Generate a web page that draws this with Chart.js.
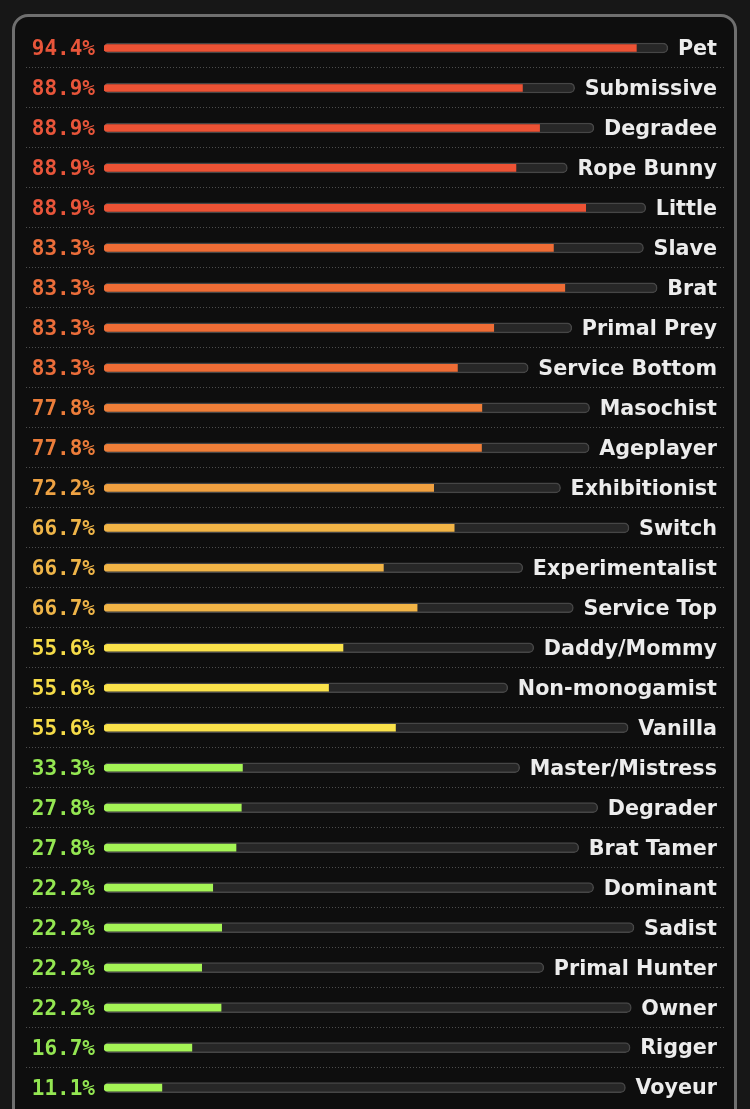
<!DOCTYPE html>
<html><head><meta charset="utf-8">
<script src="https://cdn.jsdelivr.net/npm/chart.js@4.4.1/dist/chart.umd.min.js"></script>
<style>
html,body{margin:0;padding:0;background:#171717;width:750px;height:1109px;overflow:hidden;}
#box{position:absolute;left:12px;top:14px;width:719px;height:1200px;border:3px solid #6f6f6f;border-radius:16px;background:#0e0e0e;}
#wrap{position:absolute;left:0;top:0;width:750px;height:1120px;}
</style></head><body>
<div id="box"></div>
<div id="wrap"><canvas id="c"></canvas></div>
<script>
const categories = ['Pet','Submissive','Degradee','Rope Bunny','Little','Slave','Brat','Primal Prey','Service Bottom','Masochist','Ageplayer','Exhibitionist','Switch','Experimentalist','Service Top','Daddy/Mommy','Non-monogamist','Vanilla','Master/Mistress','Degrader','Brat Tamer','Dominant','Sadist','Primal Hunter','Owner','Rigger','Voyeur'];
const percentages = [94.4,88.9,88.9,88.9,88.9,83.3,83.3,83.3,83.3,77.8,77.8,72.2,66.7,66.7,66.7,55.6,55.6,55.6,33.3,27.8,27.8,22.2,22.2,22.2,22.2,16.7,11.1];
const percentLabels = percentages.map(v => v.toFixed(1) + '%');

function barColor(v){
  if (v >= 85) return '#ec5234';
  if (v >= 80) return '#ee6c35';
  if (v >= 75) return '#ef7e38';
  if (v >= 70) return '#f0a040';
  if (v >= 60) return '#f2b446';
  if (v >= 50) return '#fae24a';
  return '#a4f455';
}
function textColor(v){
  if (v >= 85) return '#e8553a';
  if (v >= 80) return '#ea6d3a';
  if (v >= 75) return '#ec7d3a';
  if (v >= 70) return '#eea243';
  if (v >= 60) return '#efb548';
  if (v >= 50) return '#f6dc48';
  return '#94e652';
}
const sepColor = ctx => (ctx.type !== 'tick' || ctx.index === 0) ? 'rgba(0,0,0,0)' : '#4d4d4d';
const LABEL_SIZE = 20.7;
const LABEL_FONT = {family:'DejaVu Sans', weight:'bold', size:LABEL_SIZE};
const GAP = 10;

const chart = new Chart(document.getElementById('c'), {
  type:'bar',
  data:{
    labels: percentLabels,
    datasets:[
      {label:'score', data: percentages.map(()=>0), backgroundColor: percentages.map(barColor),
       barThickness:7, borderRadius:{topLeft:4,bottomLeft:4,topRight:0,bottomRight:0},
       borderSkipped:false, borderWidth:0, grouped:false, order:0},
      {label:'track', data: percentages.map(()=>0), backgroundColor:'#272727', borderColor:'#464646',
       borderWidth:1.5, barThickness:10, borderRadius:5, borderSkipped:false, grouped:false, order:1}
    ]
  },
  options:{
    indexAxis:'y', responsive:true, maintainAspectRatio:false, animation:false,
    layout:{padding:{left:14,right:26,top:28,bottom:0}},
    plugins:{legend:{display:false}, tooltip:{enabled:false}},
    scales:{
      x:{display:false, min:0, max:100},
      y:{type:'category', position:'left', offset:true,
         grid:{offset:true, color:sepColor, lineWidth:1, drawTicks:true, tickLength:78, tickColor:sepColor, tickBorderDash:[1,2]},
         border:{display:false, dash:[1,2]},
         ticks:{color: ctx => textColor(percentages[ctx.index]), font:{family:'DejaVu Sans Mono', weight:'bold', size:21}, padding:-69, labelOffset:1.5, autoSkip:false},
         afterFit: s => { s.width = 90; }},
      y2:{type:'category', position:'right', labels: categories, offset:true,
         grid:{offset:true, drawOnChartArea:false, drawTicks:true, tickLength:7, color:sepColor, tickColor:sepColor, tickBorderDash:[1,2]},
         border:{display:false, dash:[1,2]},
         ticks:{mirror:true, padding:0, color:'#ececec', font:LABEL_FONT, labelOffset:1.5, autoSkip:false},
         afterFit: s => { s.width = 7; }}
    }
  }
});

const xs = chart.scales.x;
const mctx = chart.ctx;
mctx.save();
mctx.font = 'bold ' + LABEL_SIZE + 'px "DejaVu Sans"';
const track = categories.map(name => xs.getValueForPixel(chart.chartArea.right - mctx.measureText(name).width - GAP));
mctx.restore();
chart.data.datasets[1].data = track;
chart.data.datasets[0].data = track.map((t,i) => t * percentages[i] / 100);
chart.update('none');
</script>
</body></html>
